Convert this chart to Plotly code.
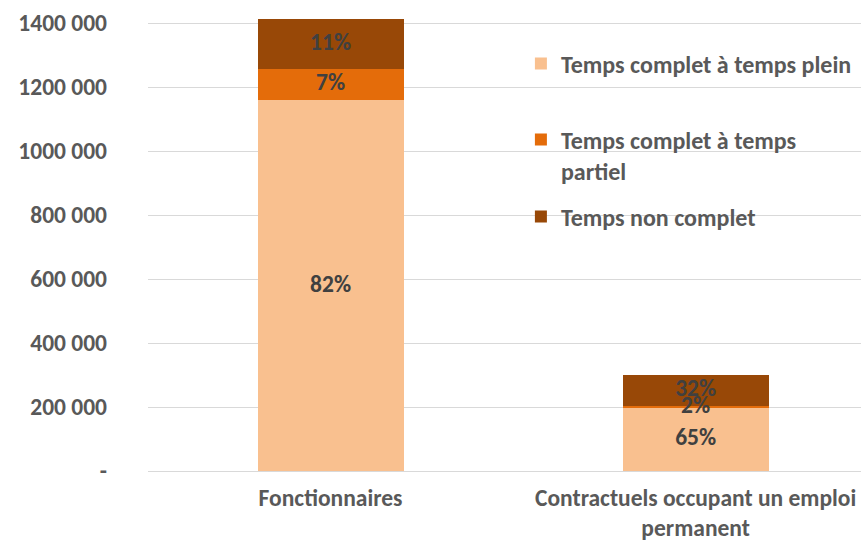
import plotly.graph_objects as go

categories = ["Fonctionnaires", "Contractuels occupant un emploi<br>permanent"]
series_names = ["Temps complet à temps plein", "Temps complet à temps<br>partiel", "Temps non complet"]
plein = [1158000, 197000]
partiel = [99000, 7000]
non_complet = [155500, 97000]
plein_labels = ["82%", "65%"]
partiel_labels = ["7%", "2%"]
non_complet_labels = ["11%", "32%"]
colors = ["#F9C08F", "#E46C0A", "#984807"]
tick_vals = [0, 200000, 400000, 600000, 800000, 1000000, 1200000, 1400000]
tick_text = ["-", "200 000", "400 000", "600 000", "800 000", "1000 000", "1200 000", "1400 000"]

FONT = "Carlito, Lato, 'Open Sans', sans-serif"
legend_names = ["legend", "legend2", "legend3"]
legend_y = [0.8965, 0.695, 0.5595]

series = [(plein, plein_labels), (partiel, partiel_labels), (non_complet, non_complet_labels)]

fig = go.Figure()
base = [0, 0]
label_x, label_y, label_t = [], [], []
for i, (vals, labels) in enumerate(series):
    fig.add_trace(go.Bar(
        x=[0, 1], y=vals, name=series_names[i],
        marker=dict(color=colors[i], line=dict(width=0)),
        width=0.4, textposition="none",
        legend=legend_names[i], hoverinfo="skip",
    ))
    for j in range(2):
        label_x.append(j)
        label_y.append(base[j] + vals[j] / 2)
        label_t.append(labels[j])
        base[j] += vals[j]

fig.add_trace(go.Scatter(
    x=label_x, y=label_y, text=label_t, mode="text", showlegend=False,
    textposition="middle center", cliponaxis=False, hoverinfo="skip",
    textfont=dict(family=FONT, size=23.5, color="#404040", weight="bold"),
))

legend_common = dict(
    x=0.523, xanchor="left", yanchor="middle", valign="top",
    font=dict(family=FONT, size=24, color="#595959", weight="bold"),
    bgcolor="rgba(0,0,0,0)", itemwidth=30,
)

fig.update_layout(
    barmode="stack",
    width=861, height=542,
    margin=dict(l=148, r=0, t=17, b=71),
    paper_bgcolor="white", plot_bgcolor="white",
    font=dict(family=FONT, color="#595959", size=17),
    showlegend=True,
    legend=dict(y=legend_y[0], **legend_common),
    legend2=dict(y=legend_y[1], **legend_common),
    legend3=dict(y=legend_y[2], **legend_common),
    xaxis=dict(
        range=[-0.5, 1.453], tickvals=[0, 1], ticktext=categories,
        showgrid=False, zeroline=False, showline=False, automargin=False,
        ticks="", ticklabelstandoff=10,
        tickfont=dict(family=FONT, size=23.5, color="#595959", weight="bold"),
    ),
    yaxis=dict(
        range=[0, 1418750], tickvals=tick_vals, ticktext=tick_text,
        showgrid=True, gridcolor="#D9D9D9", gridwidth=1.3, automargin=False,
        zeroline=True, zerolinecolor="#D9D9D9", zerolinewidth=1.3,
        showline=False, ticks="", ticklabelstandoff=40,
        tickfont=dict(family=FONT, size=23.5, color="#595959", weight="bold"),
    ),
)

fig.write_html(
    "out.html",
    config={"displayModeBar": False},
    post_script="document.body.style.margin='0';document.body.style.overflow='hidden';document.documentElement.style.overflow='hidden';",
)
